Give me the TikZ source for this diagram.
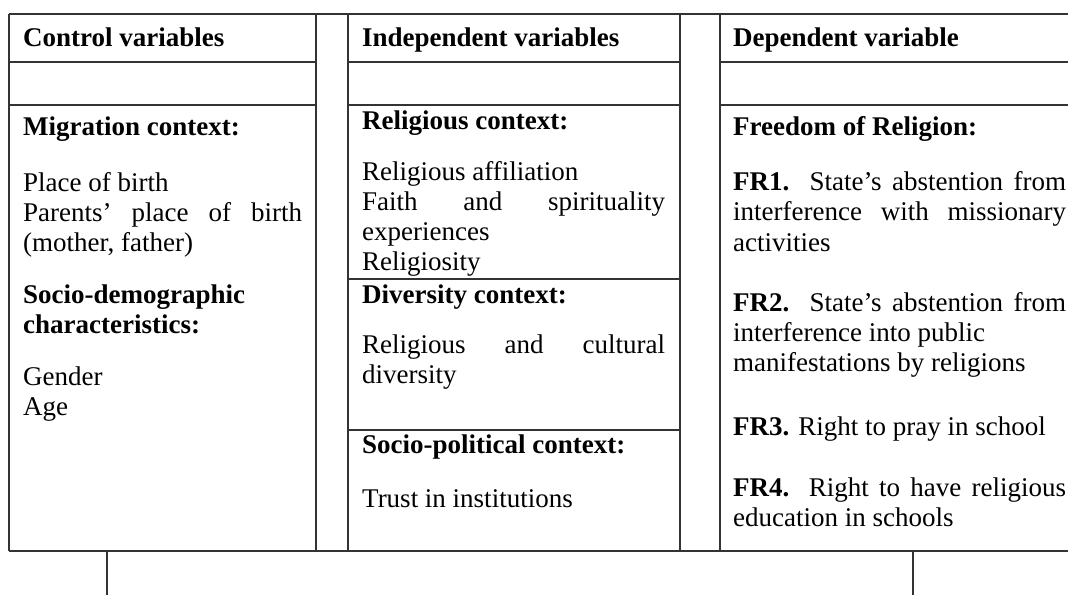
\documentclass[tikz,border=0pt]{standalone}
\usepackage{fontspec}
\setmainfont{Liberation Serif}
\begin{document}
\begin{tikzpicture}[x=1pt,y=-1pt,
  grid/.style={line width=1.1pt, draw=black!80},
  txt/.style={anchor=base west, inner sep=0pt, font=\fontsize{27}{30}\selectfont},
  hd/.style={anchor=base west, inner sep=0pt, font=\fontsize{27}{30}\selectfont\bfseries}]
\useasboundingbox (0,0) rectangle (1068,595);
% frame
\draw[grid] (9,14) -- (1068,14);
\draw[grid] (9,551) -- (1068,551);
\foreach \x in {9,316,348,680,720} \draw[grid] (\x,14) -- (\x,551);
\foreach \y in {62,105} {
  \draw[grid] (9,\y) -- (316,\y);
  \draw[grid] (348,\y) -- (680,\y);
  \draw[grid] (720,\y) -- (1068,\y);
}
\draw[grid] (348,279) -- (680,279);
\draw[grid] (348,430) -- (680,430);
\draw[grid] (107,551) -- (107,595);
\draw[grid] (913,551) -- (913,595);
% headers
\node[hd] (h1) at (23,46.7) {Control variables};
\node[hd] (h2) at (362,46.7) {Independent variables};
\node[hd] (h3) at (733,46.7) {Dependent variable};
% left column
\node[hd] (l1) at (23,135) {Migration context:};
\node[txt] (l2) at (23,191.7) {Place of birth};
\node[txt] (l3) at (23,221.7) {\makebox[279pt][s]{Parents’ place of birth}};
\node[txt] (l4) at (23,251.7) {(mother, father)};
\node[hd] (l5) at (23,303) {Socio-demographic};
\node[hd] (l6) at (23,333) {characteristics:};
\node[txt] (l7) at (23,385) {Gender};
\node[txt] (l8) at (23,415) {Age};
% middle column
\node[hd] (m1) at (362,129) {Religious context:};
\node[txt] (m2) at (362,180) {Religious affiliation};
\node[txt] (m3) at (362,210) {\makebox[303pt][s]{Faith and spirituality}};
\node[txt] (m4) at (362,240) {experiences};
\node[txt] (m5) at (362,270) {Religiosity};
\node[hd] (m6) at (362,303) {Diversity context:};
\node[txt] (m7) at (362,353) {\makebox[303pt][s]{Religious and cultural}};
\node[txt] (m8) at (362,383) {diversity};
\node[hd] (m9) at (362,453) {Socio-political context:};
\node[txt] (m10) at (362,507) {Trust in institutions};
% right column
\node[hd] (r1) at (733,135) {Freedom of Religion:};
\node[txt] (r2) at (733,190) {\makebox[333pt][s]{\textbf{FR1.} State’s abstention from}};
\node[txt] (r3) at (733,220.7) {\makebox[333pt][s]{interference with missionary}};
\node[txt] (r4) at (733,251.7) {activities};
\node[txt] (r5) at (733,311) {\makebox[333pt][s]{\textbf{FR2.} State’s abstention from}};
\node[txt] (r6) at (733,341) {interference into public};
\node[txt] (r7) at (733,371) {manifestations by religions};
\node[txt] (r8) at (733,435) {\textbf{FR3.} Right to pray in school};
\node[txt] (r9) at (733,496.7) {\makebox[333pt][s]{\textbf{FR4.} Right to have religious}};
\node[txt] (r10) at (733,526.7) {education in schools};
\end{tikzpicture}
\end{document}
